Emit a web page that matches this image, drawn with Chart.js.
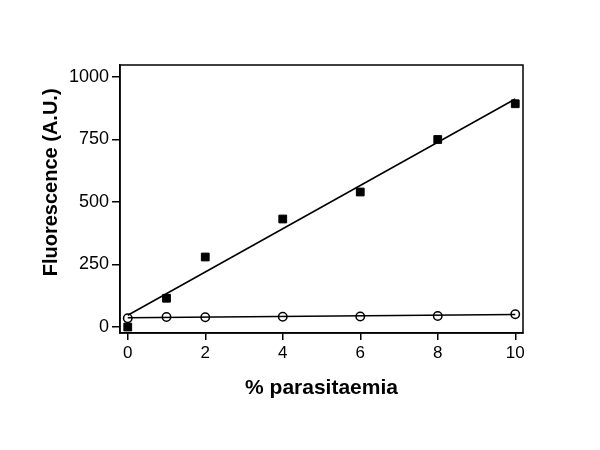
<!DOCTYPE html>
<html>
<head>
<meta charset="utf-8">
<script src="https://cdn.jsdelivr.net/npm/chart.js@4/dist/chart.umd.min.js"></script>
<style>
  html, body { margin: 0; padding: 0; background: #fff; }
  #wrap { width: 600px; height: 450px; }
</style>
</head>
<body>
<div id="wrap"><canvas id="chart"></canvas></div>
<script>
// % parasitaemia
const parasitaemia = [0, 1, 2, 4, 6, 8, 10];
// filled squares
const squareValues = [0, 115, 280, 432, 540, 750, 893];
// open circles
const circleValues = [35, 40, 39, 41, 42, 44, 51];
// fitted lines, ends
const squareFitX = [0, 10];
const squareFitY = [47, 912];
const circleFitX = [0, 10];
const circleFitY = [37, 50];

const xTicks = [0, 2, 4, 6, 8, 10];
const yTicks = [0, 250, 500, 750, 1000];

const toPts = (xs, ys) => xs.map((x, i) => ({ x: x, y: ys[i] }));

// full frame round the plot area
const framePlugin = {
    id: 'frame',
    afterDraw(chart) {
        const a = chart.chartArea;
        const ctx = chart.ctx;
        ctx.save();
        ctx.strokeStyle = '#000';
        ctx.lineWidth = 1.5;
        ctx.strokeRect(a.left, a.top, a.right - a.left, a.bottom - a.top);
        ctx.restore();
    }
};

new Chart(document.getElementById('chart'), {
    type: 'scatter',
    data: {
        datasets: [
            {
                type: 'line',
                data: toPts(squareFitX, squareFitY),
                borderColor: '#000',
                borderWidth: 1.5,
                pointRadius: 0,
                fill: false
            },
            {
                type: 'line',
                data: toPts(circleFitX, circleFitY),
                borderColor: '#000',
                borderWidth: 1.5,
                pointRadius: 0,
                fill: false
            },
            {
                data: toPts(parasitaemia, squareValues),
                pointStyle: 'rect',
                pointRadius: 5.5,
                backgroundColor: '#000',
                borderColor: '#000',
                borderWidth: 1
            },
            {
                data: toPts(parasitaemia, circleValues),
                pointStyle: 'circle',
                pointRadius: 4.2,
                backgroundColor: '#fff',
                borderColor: '#000',
                borderWidth: 1.5
            }
        ]
    },
    options: {
        responsive: true,
        maintainAspectRatio: false,
        animation: false,
        layout: { padding: { top: 65, right: 77, left: 0, bottom: 0 } },
        plugins: {
            legend: { display: false },
            tooltip: { enabled: false }
        },
        scales: {
            x: {
                type: 'linear',
                min: -0.2,
                max: 10.2,
                afterBuildTicks: s => { s.ticks = xTicks.map(v => ({ value: v })); },
                afterFit: s => { s.height = 117; },
                border: { display: true, color: '#000', width: 1.5 },
                grid: { display: true, drawOnChartArea: false, drawTicks: true, tickLength: 7, color: '#000', lineWidth: 1.5 },
                ticks: { color: '#000', padding: 3, callback: v => String(v), font: { family: 'Liberation Sans', size: 17 } },
                title: {
                    display: true,
                    text: '% parasitaemia',
                    color: '#000',
                    padding: { top: 0, bottom: 49 },
                    font: { family: 'Liberation Sans', size: 21, weight: 'bold' }
                }
            },
            y: {
                type: 'linear',
                min: -24,
                max: 1048,
                afterBuildTicks: s => { s.ticks = yTicks.map(v => ({ value: v })); },
                afterFit: s => { s.width = 120; },
                border: { display: true, color: '#000', width: 1.5 },
                grid: { display: true, drawOnChartArea: false, drawTicks: true, tickLength: 8, color: '#000', lineWidth: 1.5 },
                ticks: { color: '#000', padding: 3, callback: v => String(v), font: { family: 'Liberation Sans', size: 18 } },
                title: {
                    display: true,
                    text: '      Fluorescence (A.U.)',
                    color: '#000',
                    padding: { top: 39, bottom: 0 },
                    font: { family: 'Liberation Sans', size: 20, weight: 'bold' }
                }
            }
        }
    },
    plugins: [framePlugin]
});
</script>
</body>
</html>
